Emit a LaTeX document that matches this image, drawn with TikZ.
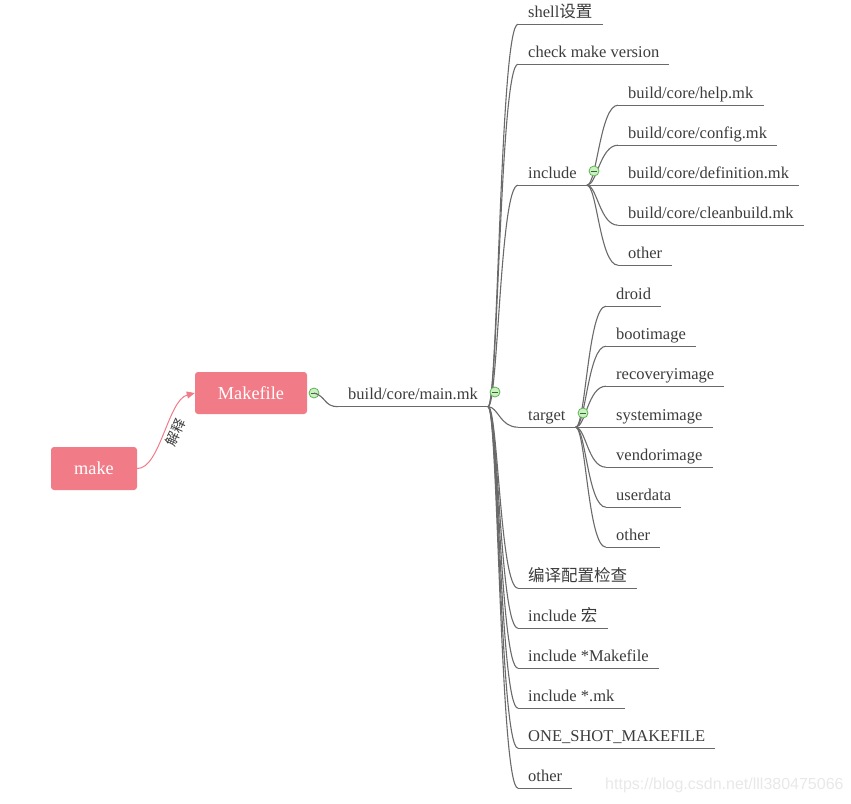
\documentclass[tikz,border=0pt]{standalone}
\usepackage{fontspec}
\setmainfont{Liberation Serif}
\newfontfamily\cjk{Noto Sans CJK SC}
\newfontfamily\wmfont{Liberation Sans}
\usetikzlibrary{arrows.meta}
\definecolor{pinkbox}{HTML}{F17C88}
\definecolor{linegray}{HTML}{6A6A6A}
\definecolor{txt}{HTML}{3C3C3C}
\definecolor{togfill}{HTML}{CDEFC4}
\definecolor{togdraw}{HTML}{5DB552}
\definecolor{togbar}{HTML}{2F6E2A}
\definecolor{wmgray}{HTML}{E8E8E8}
\tikzset{
  leaf/.style={anchor=base west, inner xsep=10pt, inner ysep=7pt, text depth=0pt, text height=12pt,
    font=\fontsize{16.5}{18}\selectfont, text=txt},
  conn/.style={draw=linegray, line width=1.1pt},
  topicbox/.style={fill=pinkbox, rounded corners=3pt, text=white, inner sep=0pt,
    font=\fontsize{18.3}{20}\selectfont},
  toggle/.style={circle, draw=togdraw, fill=togfill, line width=0.8pt, minimum size=10pt, inner sep=0pt,
    path picture={\draw[togbar, line width=0.9pt] ([xshift=-3pt]path picture bounding box.center) -- ([xshift=3pt]path picture bounding box.center);}},
}
\newcommand\branchto[2]{\draw[conn] (#1) .. controls +(10,0) and +(-18,0) .. (#2.south west);}
\newcommand\uline[1]{\draw[conn] (#1.south west) -- (#1.south east);}
\begin{document}
\begin{tikzpicture}[x=1pt,y=-1pt]
\useasboundingbox (0,0) rectangle (851,803);

% central topics
\node[topicbox, minimum width=86pt, minimum height=43pt] (make) at (94,468.5) {make};
\node[topicbox, minimum width=112pt, minimum height=42pt] (mf) at (251,393) {Makefile};

\draw[pinkbox, line width=1pt, -{Triangle[length=8pt,width=7pt]}]
  (make.east) .. controls (160,469) and (168,400) .. (mf.west)
  node[sloped, pos=0.55, below=2pt, inner sep=1pt, font=\cjk\fontsize{14}{14}\selectfont, text=txt] (lbl) {解释};

% main.mk
\node[leaf] (mainmk) at (338,399.5) {build/core/main.mk};
\uline{mainmk}
\node[toggle] (t1) at (314,393) {};
\draw[conn] (t1.center) .. controls +(12,3) and +(-14,0) .. (mainmk.south west);

% children of main.mk
\node[leaf] (shell) at (518,17) {shell{\cjk 设置}};
\node[leaf] (check) at (518,57) {check make version};
\node[leaf] (incl) at (518,178) {include};
\node[leaf] (target) at (518,420) {target};
\node[leaf] (cfg) at (518,581) {{\cjk 编译配置检查}};
\node[leaf] (inclm) at (518,621) {include {\cjk 宏}};
\node[leaf] (inclmk) at (518,661) {include *Makefile};
\node[leaf] (inclstar) at (518,701) {include *.mk};
\node[leaf] (oneshot) at (518,741) {ONE\_SHOT\_MAKEFILE};
\node[leaf] (other1) at (518,781) {other};
\foreach \n in {shell,check,incl,target,cfg,inclm,inclmk,inclstar,oneshot,other1}{
  \uline{\n}
  \branchto{mainmk.south east}{\n}
}

% include children
\node[leaf] (help) at (618,98) {build/core/help.mk};
\node[leaf] (config) at (618,138) {build/core/config.mk};
\node[leaf] (defn) at (618,178) {build/core/definition.mk};
\node[leaf] (clean) at (618,218) {build/core/cleanbuild.mk};
\node[leaf] (other2) at (618,258) {other};
\foreach \n in {help,config,defn,clean,other2}{
  \uline{\n}
  \branchto{incl.south east}{\n}
}

% target children
\node[leaf] (droid) at (606,299) {droid};
\node[leaf] (boot) at (606,339) {bootimage};
\node[leaf] (recov) at (606,379) {recoveryimage};
\node[leaf] (sys) at (606,420) {systemimage};
\node[leaf] (vendor) at (606,460) {vendorimage};
\node[leaf] (user) at (606,500) {userdata};
\node[leaf] (other3) at (606,540) {other};
\foreach \n in {droid,boot,recov,sys,vendor,user,other3}{
  \uline{\n}
  \branchto{target.south east}{\n}
}

% toggles on top
\node[toggle] (t2) at (495,392) {};
\node[toggle] (t3) at (594,171) {};
\node[toggle] (t4) at (583,413) {};

% watermark
\node[anchor=west, inner sep=0pt, font=\wmfont\fontsize{16}{16}\selectfont, text=wmgray] (wm) at (605,785) {https://blog.csdn.net/lll380475066};
\end{tikzpicture}
\end{document}
